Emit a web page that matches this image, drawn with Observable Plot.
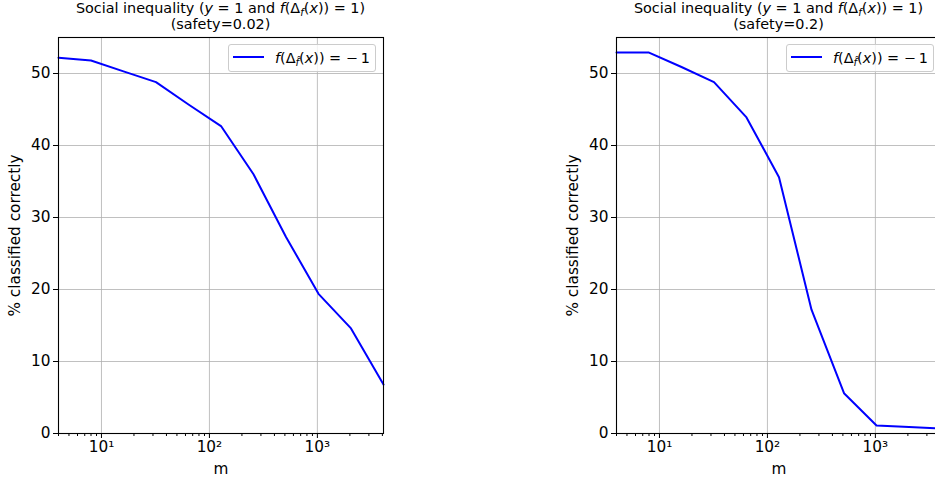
<!DOCTYPE html>
<html><head><meta charset="utf-8">
<script src="https://cdn.jsdelivr.net/npm/d3@7"></script>
<script src="https://cdn.jsdelivr.net/npm/@observablehq/plot@0.6"></script>
<style>
html,body{margin:0;padding:0;background:#fff;overflow:hidden;}
#fig{position:relative;width:935px;height:479px;overflow:hidden;font-family:"DejaVu Sans",sans-serif;color:#000;}
.panel{position:absolute;top:0;width:450px;height:479px;}
.panel svg{position:absolute;left:0;top:0;}
.title{position:absolute;left:38px;width:365px;top:0px;text-align:center;font-size:14.4px;line-height:16px;white-space:nowrap;}
.title i, .legend i{font-style:italic;}
.sub{font-size:70%;vertical-align:-0.3em;line-height:0;}
.legend{position:absolute;top:44px;left:228px;width:148px;height:28px;border:1px solid #cccccc;border-radius:3px;background:rgba(255,255,255,0.8);font-size:14.4px;box-sizing:border-box;}
.legend .swatch{position:absolute;left:4px;top:11.3px;width:31px;height:2px;background:#0000ff;}
.legend .lab{position:absolute;left:46px;top:5px;line-height:16px;white-space:nowrap;}
</style>
</head><body>
<div id="fig"></div>
<script>
// data
const mValues = [4, 8, 16, 32, 64, 128, 256, 512, 1024, 2048, 4096];
const safety002 = [52.2, 51.8, 50.3, 48.8, 45.7, 42.7, 36.0, 27.3, 19.4, 14.6, 6.8];
const safety02 = [52.9, 52.9, 50.9, 48.8, 43.9, 35.6, 17.2, 5.6, 1.1, 0.9, 0.7];
const panelSafety = ["0.02", "0.2"];
const xMajor = [10, 100, 1000];
const xMajorLabels = ["10\u00b9", "10\u00b2", "10\u00b3"];
const xMinor = [4,5,6,7,8,9,20,30,40,50,60,70,80,90,200,300,400,500,600,700,800,900,2000,3000,4000];
const yTicks = [0, 10, 20, 30, 40, 50];
const xDomain = [4, 4096];
const yDomain = [0, 55];
const xLabel = "m";
const yLabel = "% classified correctly";

const series = [safety002, safety02];
const panelLeft = [0, 558];

const fig = document.getElementById("fig");

series.forEach((vals, i) => {
  const data = mValues.map((m, k) => ({m, v: vals[k]}));
  const panel = document.createElement("div");
  panel.className = "panel";
  panel.style.left = panelLeft[i] + "px";

  const chart = Plot.plot({
    width: 450,
    height: 479,
    marginLeft: 58,
    marginRight: 67,
    marginTop: 37,
    marginBottom: 46,
    style: {fontFamily: "DejaVu Sans, sans-serif", fontSize: "15.3px", color: "#000", background: "transparent", maxWidth: "none", overflow: "visible"},
    x: {type: "log", domain: xDomain},
    y: {domain: yDomain},
    marks: [
      Plot.gridY(yTicks, {stroke: "#b0b0b0", strokeOpacity: 1, strokeWidth: 0.8}),
      Plot.gridX(xMajor, {stroke: "#b0b0b0", strokeOpacity: 1, strokeWidth: 0.8}),
      Plot.line(data, {x: "m", y: "v", stroke: "#0000ff", strokeWidth: 2}),
      Plot.frame({stroke: "#000", strokeWidth: 1.1}),
      Plot.axisY(yTicks, {tickSize: 5, tickPadding: 3, label: yLabel, labelAnchor: "center", labelOffset: 49, labelArrow: "none"}),
      Plot.axisX(xMajor, {tickSize: 5, tickPadding: 3, tickFormat: (d) => xMajorLabels[xMajor.indexOf(d)], label: xLabel, labelAnchor: "center", labelOffset: 40, labelArrow: "none"}),
      Plot.axisX(xMinor, {tickSize: 3, tickFormat: () => "", label: null})
    ]
  });
  panel.appendChild(chart);

  const title = document.createElement("div");
  title.className = "title";
  title.innerHTML = 'Social inequality (<i>y</i> = 1 and <i>f</i>(\u0394<span class="sub"><i>f</i></span>(<i>x</i>)) = 1)<br>(safety=' + panelSafety[i] + ')';
  panel.appendChild(title);

  const legend = document.createElement("div");
  legend.className = "legend";
  legend.innerHTML = '<div class="swatch"></div><div class="lab"><i>f</i>(\u0394<span class="sub"><i>f\u0302</i></span>(<i>x</i>)) = \u2212\u20091</div>';
  panel.appendChild(legend);

  fig.appendChild(panel);
});
</script>
</body></html>
